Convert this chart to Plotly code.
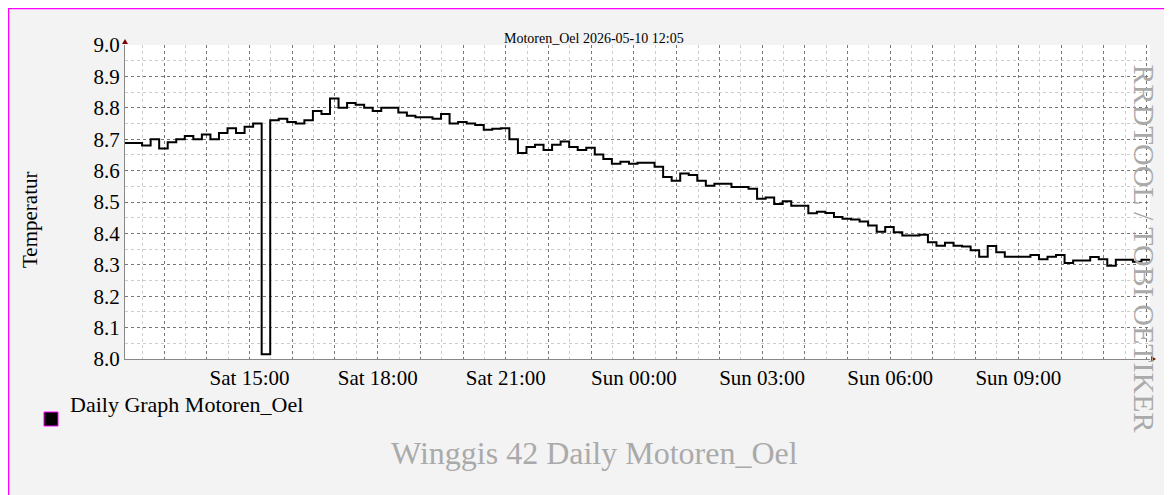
import plotly.graph_objects as go
import pandas as pd

start = "2026-05-09 12:05"
step_minutes = 12
values = [8.688, 8.688, 8.68, 8.70, 8.67, 8.69, 8.70, 8.71, 8.70, 8.715, 8.70, 8.72, 8.735, 8.72, 8.74, 8.75,
          8.015, 8.76, 8.765, 8.755, 8.75, 8.76, 8.79, 8.78, 8.83, 8.80, 8.815, 8.81, 8.80, 8.79, 8.80, 8.80,
          8.785, 8.775, 8.77, 8.77, 8.765, 8.78, 8.75, 8.755, 8.75, 8.745, 8.73, 8.733, 8.735, 8.70,
          8.656, 8.675, 8.682, 8.666, 8.682, 8.693, 8.675, 8.666, 8.673, 8.651, 8.637, 8.622, 8.628, 8.622,
          8.625, 8.625, 8.612, 8.58, 8.568, 8.591, 8.586, 8.568, 8.552, 8.558, 8.558, 8.548, 8.548, 8.542,
          8.51, 8.514, 8.494, 8.502, 8.488, 8.488, 8.464, 8.469, 8.465, 8.452, 8.447,
          8.444, 8.438, 8.425, 8.405, 8.42, 8.404, 8.393, 8.393, 8.396, 8.372, 8.361, 8.37, 8.361, 8.358,
          8.346, 8.326, 8.36, 8.34, 8.326, 8.326, 8.326, 8.331, 8.318, 8.326, 8.331, 8.306, 8.314, 8.314,
          8.325, 8.318, 8.297, 8.316, 8.316, 8.31, 8.316]
y_ticks = [8.0, 8.1, 8.2, 8.3, 8.4, 8.5, 8.6, 8.7, 8.8, 8.9, 9.0]
x_labels = ["Sat 15:00", "Sat 18:00", "Sat 21:00", "Sun 00:00", "Sun 03:00", "Sun 06:00", "Sun 09:00", "Sun 12:00"]

t0 = pd.Timestamp(start)
xs = [t0 + pd.Timedelta(minutes=step_minutes * i) for i in range(len(values) + 1)]
ys = values + [values[-1]]
t_end = t0 + pd.Timedelta(hours=24)

hours = pd.date_range("2026-05-09 13:00", "2026-05-10 12:00", freq="1h")
label_map = {pd.Timestamp("2026-05-09 15:00") + pd.Timedelta(hours=3 * i): l for i, l in enumerate(x_labels)}
ticktext = [label_map.get(h, "") for h in hours]

W, H = 1172, 495
pl, pr, pt, pb = 117, 1142, 37, 351
def px(x): return (x - pl) / (pr - pl)
def py(y): return (pb - y) / (pb - pt)

font = "Liberation Serif"
fig = go.Figure()
fig.add_trace(go.Scatter(x=xs, y=ys, mode="lines", line=dict(color="black", width=2, shape="hv"),
                         name="Daily Graph Motoren_Oel", showlegend=False))

fig.update_layout(
    width=W, height=H,
    paper_bgcolor="#f3f3f3", plot_bgcolor="white",
    margin=dict(l=pl, r=W - pr, t=pt, b=H - pb, autoexpand=False),
    font=dict(family=font, color="black"),
    xaxis=dict(range=[t0, t_end], tickvals=list(hours), ticktext=ticktext, ticks="", tickfont=dict(size=21),
               showgrid=True, gridcolor="#777", griddash="dot", gridwidth=1,
               minor=dict(dtick=30 * 60 * 1000, showgrid=True, gridcolor="#ccc", griddash="dot"),
               showline=True, linecolor="#888", zeroline=False),
    yaxis=dict(range=[8.0, 9.0], tickvals=y_ticks, ticktext=[f"{v:.1f}" for v in y_ticks], tickfont=dict(size=21),
               ticks="", showgrid=True, gridcolor="#777", griddash="dot",
               minor=dict(dtick=0.05, showgrid=True, gridcolor="#ccc", griddash="dot"),
               showline=True, linecolor="#888", zeroline=False),
    annotations=[
        dict(text="Motoren_Oel 2026-05-10 12:05", x=px(586), y=py(21), showarrow=False, font=dict(size=14)),
        dict(text="Temperatur", x=px(8), y=py(212), showarrow=False, textangle=-90, font=dict(size=21)),
        dict(text="RRDTOOL / TOBI OETIKER", x=px(1155), y=py(240), showarrow=False,
             textangle=90, font=dict(size=30, color="#aaa")),
        dict(text="Daily Graph Motoren_Oel", x=px(60), y=py(411), showarrow=False, xanchor="left",
             font=dict(size=22)),
        dict(text="Winggis 42 Daily Motoren_Oel", x=px(586), y=py(465), showarrow=False,
             font=dict(size=32, color="#aaa")),
    ],
)
for a in fig.layout.annotations:
    a.update(xref="paper", yref="paper")

fig.add_shape(type="rect", xref="paper", yref="paper", x0=px(36), x1=px(50), y0=py(418), y1=py(404),
              fillcolor="black", line=dict(color="#ff00ff", width=1))
fig.add_shape(type="rect", xref="paper", yref="paper", x0=px(0.5), x1=px(W - 0.5), y0=py(0.5), y1=py(H - 0.5),
              line=dict(color="#ff00ff", width=1.5), layer="below")
fig.add_shape(type="path", xref="paper", yref="paper",
              path=f"M {px(114)} {py(36)} L {px(120)} {py(36)} L {px(117)} {py(31)} Z",
              fillcolor="#800000", line=dict(width=0))
fig.add_shape(type="path", xref="paper", yref="paper",
              path=f"M {px(1143)} {py(348)} L {px(1143)} {py(354)} L {px(1148)} {py(351)} Z",
              fillcolor="#800000", line=dict(width=0))

fig.write_html("out.html")
